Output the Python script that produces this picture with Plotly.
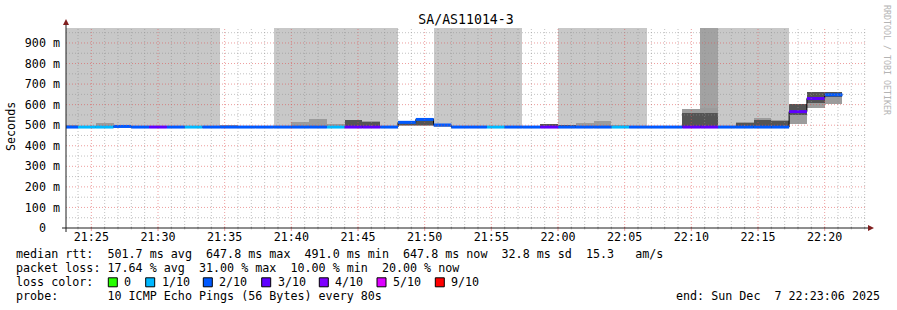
import plotly.graph_objects as go
from datetime import datetime, timedelta

# ---------------- data ----------------
title_text = "SA/AS11014-3"
series_start = datetime(2025, 12, 7, 21, 22, 40)
step_seconds = 80
view_start = datetime(2025, 12, 7, 21, 23, 6)
view_end = datetime(2025, 12, 7, 22, 23, 6)
y_max_ms = 972.8

median_ms = [491, 491, 491, 494, 491, 491, 491, 491, 491, 491,
             491, 491, 491, 491, 491, 491, 491, 491, 491, 514,
             528, 501, 491, 491, 491, 491, 491, 491, 491, 491,
             491, 491, 491, 491, 491, 491, 491, 491, 491, 491,
             491, 566, 630, 647.8]
loss_tenths = [2, 1, 1, 2, 2, 3, 2, 1, 2, 2,
               2, 2, 2, 2, 2, 1, 3, 3, 2, 2,
               2, 2, 2, 2, 1, 2, 2, 3, 2, 2,
               2, 1, 2, 2, 2, 3, 3, 2, 2, 2,
               2, 3, 3, 2]
lost_band = [1, 1, 1, 1, 1, 1, 1, 1, 1, 0,
             0, 0, 1, 1, 1, 1, 1, 1, 1, 0,
             0, 1, 1, 1, 1, 1, 0, 0, 1, 1,
             1, 1, 1, 0, 0, 0, 2, 1, 1, 1,
             1, 0, 0, 0]
smoke_lo = [488] * 19 + [496, 496, 491] + [488] * 19 + [505, 585, 603]
smoke_hi = [501, 497, 511, 501, 496, 496, 495, 495, 496, 501,
            495, 495, 496, 516, 530, 506, 525, 520, 496, 521,
            535, 506, 495, 495, 495, 495, 495, 506, 503, 511,
            520, 501, 495, 495, 495, 579, 584, 495, 516, 535,
            527, 601, 661, 661]
core_lo = [None] * 16 + [488, 488, None, 500, 500, 494] + [None] * 5 + [488, 488] + [None] * 6 + [488, 488, None, 488, 488, 488, 550, 608, 637]
core_hi = [None] * 16 + [523, 518, None, 516, 530, 504] + [None] * 5 + [505, 500] + [None] * 6 + [560, 559, None, 510, 525, 520, 601, 661, 661]

loss_colors = {0: "#26ff00", 1: "#00b8ff", 2: "#0059ff", 3: "#5e00ff",
               4: "#7e00ff", 5: "#dd00ff", 9: "#ff0000"}
legend_levels = [0, 1, 2, 3, 4, 5, 9]
legend_labels = ["0", "1/10", "2/10", "3/10", "4/10", "5/10", "9/10"]

y_ticks_ms = [0, 100, 200, 300, 400, 500, 600, 700, 800, 900]
y_tick_text = ["0\u00a0\u00a0"] + ["%d\u00a0m" % v for v in y_ticks_ms[1:]]

stats_rtt = "median rtt:  501.7 ms avg  647.8 ms max  491.0 ms min  647.8 ms now  32.8 ms sd  15.3   am/s"
stats_loss = "packet loss: 17.64 % avg  31.00 % max  10.00 % min  20.00 % now"
probe_text = "probe:       10 ICMP Echo Pings (56 Bytes) every 80s"
end_text = "end: Sun Dec  7 22:23:06 2025"
side_text = "RRDTOOL / TOBI OETIKER"

# ---------------- layout constants ----------------
W, H = 897, 310
L, R, T, B = 66, 31, 28, 82
PW, PH = W - L - R, H - T - B
FONT = "DejaVu Sans Mono"
FS = 11.7


def px(xp):
    return (xp - L) / PW


def py(yp):
    return (T + PH - yp) / PH


def nb(s):
    return s.replace(" ", "\u00a0")


n = len(median_ms)
t_start = [series_start + timedelta(seconds=step_seconds * i) for i in range(n)]
t_end = [t + timedelta(seconds=step_seconds) for t in t_start]
fmt = lambda t: t.strftime("%Y-%m-%d %H:%M:%S")
W_MS = step_seconds * 1000

fig = go.Figure()

# lost-ping background bands
for level, col in [(1, "#c8c8c8"), (2, "#a2a2a2")]:
    idx = [i for i in range(n) if lost_band[i] == level]
    fig.add_trace(go.Bar(
        x=[fmt(t_start[i]) for i in idx],
        base=[median_ms[i] for i in idx],
        y=[y_max_ms - median_ms[i] for i in idx],
        width=W_MS, offset=0, marker=dict(color=col, line=dict(width=0)),
        hoverinfo="skip", showlegend=False))

# smoke
fig.add_trace(go.Bar(
    x=[fmt(t) for t in t_start], base=smoke_lo,
    y=[h - l for h, l in zip(smoke_hi, smoke_lo)],
    width=W_MS, offset=0, marker=dict(color="#9c9c9c", line=dict(width=0)),
    hoverinfo="skip", showlegend=False))
cidx = [i for i in range(n) if core_lo[i] is not None]
fig.add_trace(go.Bar(
    x=[fmt(t_start[i]) for i in cidx], base=[core_lo[i] for i in cidx],
    y=[core_hi[i] - core_lo[i] for i in cidx],
    width=W_MS, offset=0, marker=dict(color="#545454", line=dict(width=0)),
    hoverinfo="skip", showlegend=False))

# black median step line
fig.add_trace(go.Scatter(
    x=[fmt(t) for t in t_start] + [fmt(t_end[-1])],
    y=median_ms + [median_ms[-1]], mode="lines",
    line=dict(color="#000000", width=1, shape="hv"),
    hoverinfo="skip", showlegend=False))

# coloured median segments by loss
for lvl in sorted(set(loss_tenths)):
    xs, ys = [], []
    for i in range(n):
        if loss_tenths[i] == lvl:
            xs += [fmt(t_start[i]), fmt(t_end[i]), None]
            ys += [median_ms[i], median_ms[i], None]
    fig.add_trace(go.Scatter(x=xs, y=ys, mode="lines",
                             line=dict(color=loss_colors[lvl], width=3),
                             hoverinfo="skip", showlegend=False))

shapes = []
# grid (drawn above, like rrdtool)
minor_col = "rgba(143,143,143,0.55)"
major_col = "rgba(222,79,79,0.55)"
t = datetime(2025, 12, 7, 21, 24, 0)
while t <= view_end:
    major = (t.minute % 5 == 0)
    shapes.append(dict(type="line", xref="x", yref="paper", x0=fmt(t), x1=fmt(t),
                       y0=0, y1=1, layer="above",
                       line=dict(color=major_col if major else minor_col, width=1, dash="1px,2px")))
    # small tick marks on the time axis
    shapes.append(dict(type="line", xref="x", yref="paper", x0=fmt(t), x1=fmt(t),
                       y0=py(231 if major else 229.5), y1=py(226.5), layer="above",
                       line=dict(color=major_col if major else minor_col, width=1)))
    t += timedelta(minutes=1)
v = 50
while v < y_max_ms:
    major = (v % 100 == 0)
    shapes.append(dict(type="line", xref="paper", yref="y", x0=0, x1=1, y0=v, y1=v,
                       layer="above",
                       line=dict(color=major_col if major else minor_col, width=1, dash="1px,2px")))
    v += 50

# axes + arrows
axis_col = "#1f1f1f"
arrow_col = "#801f1f"
shapes.append(dict(type="line", xref="paper", yref="paper", x0=px(62), x1=px(869), y0=0, y1=0,
                   layer="above", line=dict(color=axis_col, width=1)))
shapes.append(dict(type="line", xref="paper", yref="paper", x0=0, x1=0, y0=py(232), y1=py(24),
                   layer="above", line=dict(color=axis_col, width=1)))
shapes.append(dict(type="path", xref="paper", yref="paper", layer="above",
                   path="M %f,%f L %f,%f L %f,%f Z" % (px(63), py(25), px(69), py(25), px(66), py(19)),
                   fillcolor=arrow_col, line=dict(width=0)))
shapes.append(dict(type="path", xref="paper", yref="paper", layer="above",
                   path="M %f,%f L %f,%f L %f,%f Z" % (px(868), py(225), px(868), py(231), px(874), py(228)),
                   fillcolor=arrow_col, line=dict(width=0)))

annotations = []
rows_y = [254.3, 268.3, 282.3, 296.0]


def text_ann(s, xp, yp, anchor="left", size=FS, color="#000000", angle=0):
    return dict(text=nb(s), xref="paper", yref="paper", x=px(xp), y=py(yp),
                xanchor=anchor, yanchor="middle", showarrow=False, textangle=angle,
                font=dict(family=FONT, size=size, color=color), borderpad=0)


annotations.append(text_ann(stats_rtt, 15, rows_y[0]))
annotations.append(text_ann(stats_loss, 15, rows_y[1]))
annotations.append(text_ann("loss color:", 15, rows_y[2]))
annotations.append(text_ann(probe_text, 15, rows_y[3]))
annotations.append(text_ann(end_text, 881, rows_y[3], anchor="right"))
annotations.append(text_ann(side_text, 887, 60, anchor="center", size=8.3, color="#b4b4b4", angle=90))
annotations.append(text_ann("Seconds", 11, 126, anchor="center", angle=-90))

legend_box_x = [108.3, 145.7, 203.3, 261.7, 319.3, 377.0, 435.3]
for bx, lvl, lab in zip(legend_box_x, legend_levels, legend_labels):
    shapes.append(dict(type="rect", xref="paper", yref="paper",
                       x0=px(bx), x1=px(bx + 9), y0=py(rows_y[2] + 4.5), y1=py(rows_y[2] - 4.5),
                       fillcolor=loss_colors[lvl], line=dict(color="#000000", width=1)))
    annotations.append(text_ann(lab, bx + 15, rows_y[2]))

fig.update_layout(
    width=W, height=H, margin=dict(l=L, r=R, t=T, b=B, pad=0),
    paper_bgcolor="#ffffff", plot_bgcolor="#ffffff",
    barmode="overlay", bargap=0, showlegend=False,
    title=dict(text=title_text, x=0.5, xanchor="center", xref="paper",
               y=1 - 19.5 / H, yanchor="middle", yref="container",
               font=dict(family=FONT, size=13.2, color="#000000")),
    xaxis=dict(type="date", range=[fmt(view_start), fmt(view_end)], showgrid=False,
               zeroline=False, showline=False, tickformat="%H:%M", dtick=300000,
               tick0="2025-12-07 21:25:00", ticks="", ticklabelstandoff=0,
               tickfont=dict(family=FONT, size=FS, color="#000000")),
    yaxis=dict(range=[0, y_max_ms], showgrid=False, zeroline=False, showline=False,
               tickmode="array", tickvals=y_ticks_ms, ticktext=y_tick_text,
               ticks="", ticklabelstandoff=5,
               tickfont=dict(family=FONT, size=FS, color="#000000")),
    shapes=shapes, annotations=annotations,
)

fig.write_html("out.html")
